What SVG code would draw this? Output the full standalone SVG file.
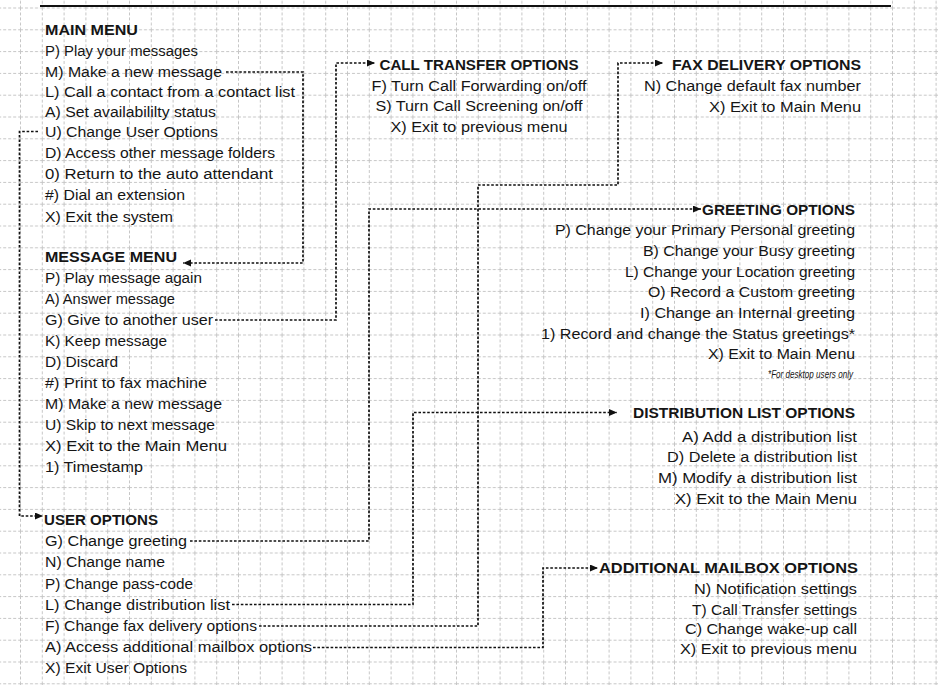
<svg xmlns="http://www.w3.org/2000/svg" width="938" height="685" viewBox="0 0 938 685">
<style>
.t{font-family:"Liberation Sans",Arial,sans-serif;font-size:14px;fill:#151515}
.h{font-weight:bold}
.e{text-anchor:end}
.m{text-anchor:middle}
.fn{font-size:10.5px;font-style:italic}
.c{fill:none;stroke:#111;stroke-width:1.7;stroke-dasharray:2.6 1.8}
.a{marker-end:url(#arr)}
</style>
<defs>
<pattern id="grid" x="20" y="7.5" width="21.8" height="21.8" patternUnits="userSpaceOnUse">
<path d="M0.5 0V21.8M0 0.5H21.8" stroke="#c6c6c6" stroke-width="1" stroke-dasharray="3 2" fill="none"/>
</pattern>
<marker id="arr" markerUnits="userSpaceOnUse" markerWidth="9" markerHeight="8" refX="8" refY="3.5" orient="auto">
<path d="M0 0L8 3.5L0 7z" fill="#111"/>
</marker>
</defs>
<rect width="938" height="685" fill="#fff"/>
<rect width="938" height="685" fill="url(#grid)"/>
<line x1="40" y1="6" x2="891" y2="6" stroke="#111" stroke-width="2"/>

<g id="connectors">
<path class="c a" d="M226 72H303V263H183"/>
<path class="c a" d="M38 131.5H19.5V516H43"/>
<path class="c a" d="M215 320H336V63H375"/>
<path class="c a" d="M190 541H369V209H701"/>
<path class="c a" d="M232 604.5H413V412.5H617"/>
<path class="c a" d="M259 626H478V185H618V63H663"/>
<path class="c a" d="M313 647.5H543V568H598"/>
</g>

<g id="main-menu" class="t">
<text class="h" x="45" y="35" textLength="93" lengthAdjust="spacingAndGlyphs">MAIN MENU</text>
<text x="45" y="55.5" textLength="153" lengthAdjust="spacingAndGlyphs">P) Play your messages</text>
<text x="45" y="76.5" textLength="177" lengthAdjust="spacingAndGlyphs">M) Make a new message</text>
<text x="45" y="97" textLength="250" lengthAdjust="spacingAndGlyphs">L) Call a contact from a contact list</text>
<text x="45" y="117" textLength="171" lengthAdjust="spacingAndGlyphs">A) Set availabililty status</text>
<text x="45" y="137" textLength="173" lengthAdjust="spacingAndGlyphs">U) Change User Options</text>
<text x="45" y="158" textLength="230" lengthAdjust="spacingAndGlyphs">D) Access other message folders</text>
<text x="45" y="179" textLength="228" lengthAdjust="spacingAndGlyphs">0) Return to the auto attendant</text>
<text x="45" y="200" textLength="140" lengthAdjust="spacingAndGlyphs">#) Dial an extension</text>
<text x="45" y="221.5" textLength="128" lengthAdjust="spacingAndGlyphs">X) Exit the system</text>
</g>

<g id="message-menu" class="t">
<text class="h" x="45" y="262" textLength="132" lengthAdjust="spacingAndGlyphs">MESSAGE MENU</text>
<text x="45" y="283" textLength="157" lengthAdjust="spacingAndGlyphs">P) Play message again</text>
<text x="45" y="304" textLength="130" lengthAdjust="spacingAndGlyphs">A) Answer message</text>
<text x="45" y="325" textLength="168" lengthAdjust="spacingAndGlyphs">G) Give to another user</text>
<text x="45" y="346" textLength="122" lengthAdjust="spacingAndGlyphs">K) Keep message</text>
<text x="45" y="367" textLength="73" lengthAdjust="spacingAndGlyphs">D) Discard</text>
<text x="45" y="388" textLength="162" lengthAdjust="spacingAndGlyphs">#) Print to fax machine</text>
<text x="45" y="409" textLength="177" lengthAdjust="spacingAndGlyphs">M) Make a new message</text>
<text x="45" y="430" textLength="170" lengthAdjust="spacingAndGlyphs">U) Skip to next message</text>
<text x="45" y="451" textLength="182" lengthAdjust="spacingAndGlyphs">X) Exit to the Main Menu</text>
<text x="45" y="472" textLength="98" lengthAdjust="spacingAndGlyphs">1) Timestamp</text>
</g>

<g id="user-options" class="t">
<text class="h" x="44" y="525" textLength="114" lengthAdjust="spacingAndGlyphs">USER OPTIONS</text>
<text x="45" y="546.2" textLength="142" lengthAdjust="spacingAndGlyphs">G) Change greeting</text>
<text x="45" y="567.4" textLength="120" lengthAdjust="spacingAndGlyphs">N) Change name</text>
<text x="45" y="588.6" textLength="148" lengthAdjust="spacingAndGlyphs">P) Change pass-code</text>
<text x="45" y="609.8" textLength="185" lengthAdjust="spacingAndGlyphs">L) Change distribution list</text>
<text x="45" y="631" textLength="212" lengthAdjust="spacingAndGlyphs">F) Change fax delivery options</text>
<text x="45" y="652.2" textLength="267" lengthAdjust="spacingAndGlyphs">A) Access additional mailbox options</text>
<text x="45" y="673.4" textLength="142" lengthAdjust="spacingAndGlyphs">X) Exit User Options</text>
</g>

<g id="call-transfer-options" class="t m">
<text class="h" x="479" y="70" textLength="199" lengthAdjust="spacingAndGlyphs">CALL TRANSFER OPTIONS</text>
<text x="479" y="90.7" textLength="215" lengthAdjust="spacingAndGlyphs">F) Turn Call Forwarding on/off</text>
<text x="479" y="111.3" textLength="207" lengthAdjust="spacingAndGlyphs">S) Turn Call Screening on/off</text>
<text x="479" y="132" textLength="177" lengthAdjust="spacingAndGlyphs">X) Exit to previous menu</text>
</g>

<g id="fax-delivery-options" class="t e">
<text class="h" x="861" y="70" textLength="189" lengthAdjust="spacingAndGlyphs">FAX DELIVERY OPTIONS</text>
<text x="861" y="91" textLength="217" lengthAdjust="spacingAndGlyphs">N) Change default fax number</text>
<text x="861" y="112" textLength="152" lengthAdjust="spacingAndGlyphs">X) Exit to Main Menu</text>
</g>

<g id="greeting-options" class="t e">
<text class="h" x="855" y="214.5" textLength="153" lengthAdjust="spacingAndGlyphs">GREETING OPTIONS</text>
<text x="855" y="235.2" textLength="300" lengthAdjust="spacingAndGlyphs">P) Change your Primary Personal greeting</text>
<text x="855" y="255.9" textLength="212" lengthAdjust="spacingAndGlyphs">B) Change your Busy greeting</text>
<text x="855" y="276.6" textLength="230" lengthAdjust="spacingAndGlyphs">L) Change your Location greeting</text>
<text x="855" y="297.3" textLength="207" lengthAdjust="spacingAndGlyphs">O) Record a Custom greeting</text>
<text x="855" y="318" textLength="215" lengthAdjust="spacingAndGlyphs">I) Change an Internal greeting</text>
<text x="855" y="338.7" textLength="314" lengthAdjust="spacingAndGlyphs">1) Record and change the Status greetings*</text>
<text x="855" y="359.4" textLength="147" lengthAdjust="spacingAndGlyphs">X) Exit to Main Menu</text>
<text class="fn" x="853" y="377.5" textLength="85" lengthAdjust="spacingAndGlyphs">*For desktop users only</text>
</g>

<g id="distribution-list-options" class="t e">
<text class="h" x="855" y="418" textLength="222" lengthAdjust="spacingAndGlyphs">DISTRIBUTION LIST OPTIONS</text>
<text x="857" y="441.5" textLength="175" lengthAdjust="spacingAndGlyphs">A) Add a distribution list</text>
<text x="857" y="462.3" textLength="190" lengthAdjust="spacingAndGlyphs">D) Delete a distribution list</text>
<text x="857" y="483" textLength="199" lengthAdjust="spacingAndGlyphs">M) Modify a distribution list</text>
<text x="857" y="503.5" textLength="182" lengthAdjust="spacingAndGlyphs">X) Exit to the Main Menu</text>
</g>

<g id="additional-mailbox-options" class="t e">
<text class="h" x="858" y="572.5" textLength="259" lengthAdjust="spacingAndGlyphs">ADDITIONAL MAILBOX OPTIONS</text>
<text x="857" y="594" textLength="163" lengthAdjust="spacingAndGlyphs">N) Notification settings</text>
<text x="857" y="614.5" textLength="165" lengthAdjust="spacingAndGlyphs">T) Call Transfer settings</text>
<text x="857" y="634" textLength="172" lengthAdjust="spacingAndGlyphs">C) Change wake-up call</text>
<text x="857" y="654" textLength="177" lengthAdjust="spacingAndGlyphs">X) Exit to previous menu</text>
</g>
</svg>
